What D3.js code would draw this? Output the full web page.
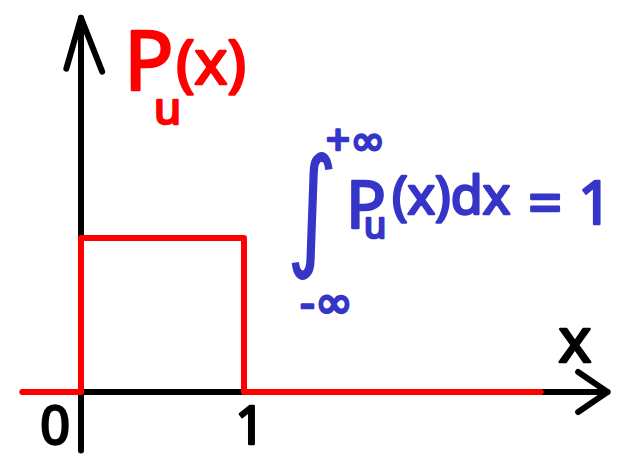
<!DOCTYPE html>
<html>
<head>
<meta charset="utf-8">
<script src="https://cdn.jsdelivr.net/npm/d3@7"></script>
<style>
  html, body { margin: 0; padding: 0; background: #fff; }
  svg { display: block; }
  .hand { font-family: "Noto Sans", "DejaVu Sans", sans-serif; stroke-linejoin: round; paint-order: stroke; }
</style>
</head>
<body>
<svg id="chart" width="621" height="459"></svg>
<script>
// Uniform density on [0, 1]: step outline of P_u(x)
const stepX = [-0.36, 0, 0, 1, 1, 2.82];
const stepY = [0, 0, 1, 1, 0, 0];
// Axis extents (data units)
const xAxisRange = [0, 3.23];
const yAxisRange = [-0.38, 2.43];
// Tick labels on the x axis
const tickValues = [0, 1];
const tickLabels = ["0", "1"];

const svg = d3.select("#chart");
const x = d3.scaleLinear().domain([0, 1]).range([81, 244]);
const y = d3.scaleLinear().domain([0, 1]).range([392, 238]);

const BLACK = "#000000", RED = "#ff0000", BLUE = "#3535c8";
const line = d3.line().x(d => x(d[0])).y(d => y(d[1]));

function stroke(sel, color, w) {
  return sel.attr("fill", "none").attr("stroke", color).attr("stroke-width", w)
    .attr("stroke-linecap", "round").attr("stroke-linejoin", "round");
}

// Axes drawn as arrows
const ax = svg.append("g");
stroke(ax.append("path").attr("d", line([[0, yAxisRange[0]], [0, yAxisRange[1]]])), BLACK, 6);
stroke(ax.append("path").attr("d", line([[-0.09, yAxisRange[1] - 0.33], [0, yAxisRange[1]], [0.13, yAxisRange[1] - 0.35]])), BLACK, 6);
stroke(ax.append("path").attr("d", line([[0, 0], [xAxisRange[1], 0]])), BLACK, 6);
stroke(ax.append("path").attr("d", line([[xAxisRange[1] - 0.18, 0.13], [xAxisRange[1], 0], [xAxisRange[1] - 0.18, -0.13]])), BLACK, 6);

// Density outline
stroke(svg.append("path").datum(d3.zip(stepX, stepY)).attr("d", line), RED, 6);

// Text helper
function label(txt, px, py, size, color, anchor) {
  return svg.append("text").attr("class", "hand")
    .attr("x", px).attr("y", py)
    .attr("font-size", size).attr("fill", color)
    .attr("stroke", color).attr("stroke-width", 2.5)
    .attr("text-anchor", anchor || "start").text(txt);
}

// Tick labels
const tickOffsets = [-26, 6];
tickValues.forEach((v, i) => {
  label(tickLabels[i], x(v) + tickOffsets[i], 444, 52, BLACK, "middle");
});
label("x", 575, 362, 62, BLACK, "middle");

// Red axis title P_u(x)
const t = svg.append("text").attr("class", "hand").attr("fill", RED)
  .attr("stroke", RED).attr("stroke-width", 2.5);
t.append("tspan").attr("x", 124).attr("y", 90).attr("font-size", 82).text("P");
t.append("tspan").attr("x", 154).attr("y", 124).attr("font-size", 44).text("u");
t.append("tspan").attr("x", 176).attr("y", 84).attr("font-size", 62).text("(x)");

// Blue normalisation formula
svg.append("text").attr("fill", BLUE)
  .attr("font-family", "DejaVu Sans").attr("font-size", 118)
  .attr("transform", "translate(286,252) scale(0.85,1.12)").text("∫");
label("+∞", 326, 155, 42, BLUE);
label("-∞", 300, 318, 46, BLUE);
const f = svg.append("text").attr("class", "hand").attr("fill", BLUE)
  .attr("stroke", BLUE).attr("stroke-width", 2.5);
f.append("tspan").attr("x", 346).attr("y", 228).attr("font-size", 66).text("P");
f.append("tspan").attr("x", 364).attr("y", 238).attr("font-size", 36).text("u");
f.append("tspan").attr("x", 392).attr("y", 214).attr("font-size", 52).text("(x)dx");
f.append("tspan").attr("x", 528).attr("y", 224).attr("font-size", 60).text("= 1");
</script>
</body>
</html>
